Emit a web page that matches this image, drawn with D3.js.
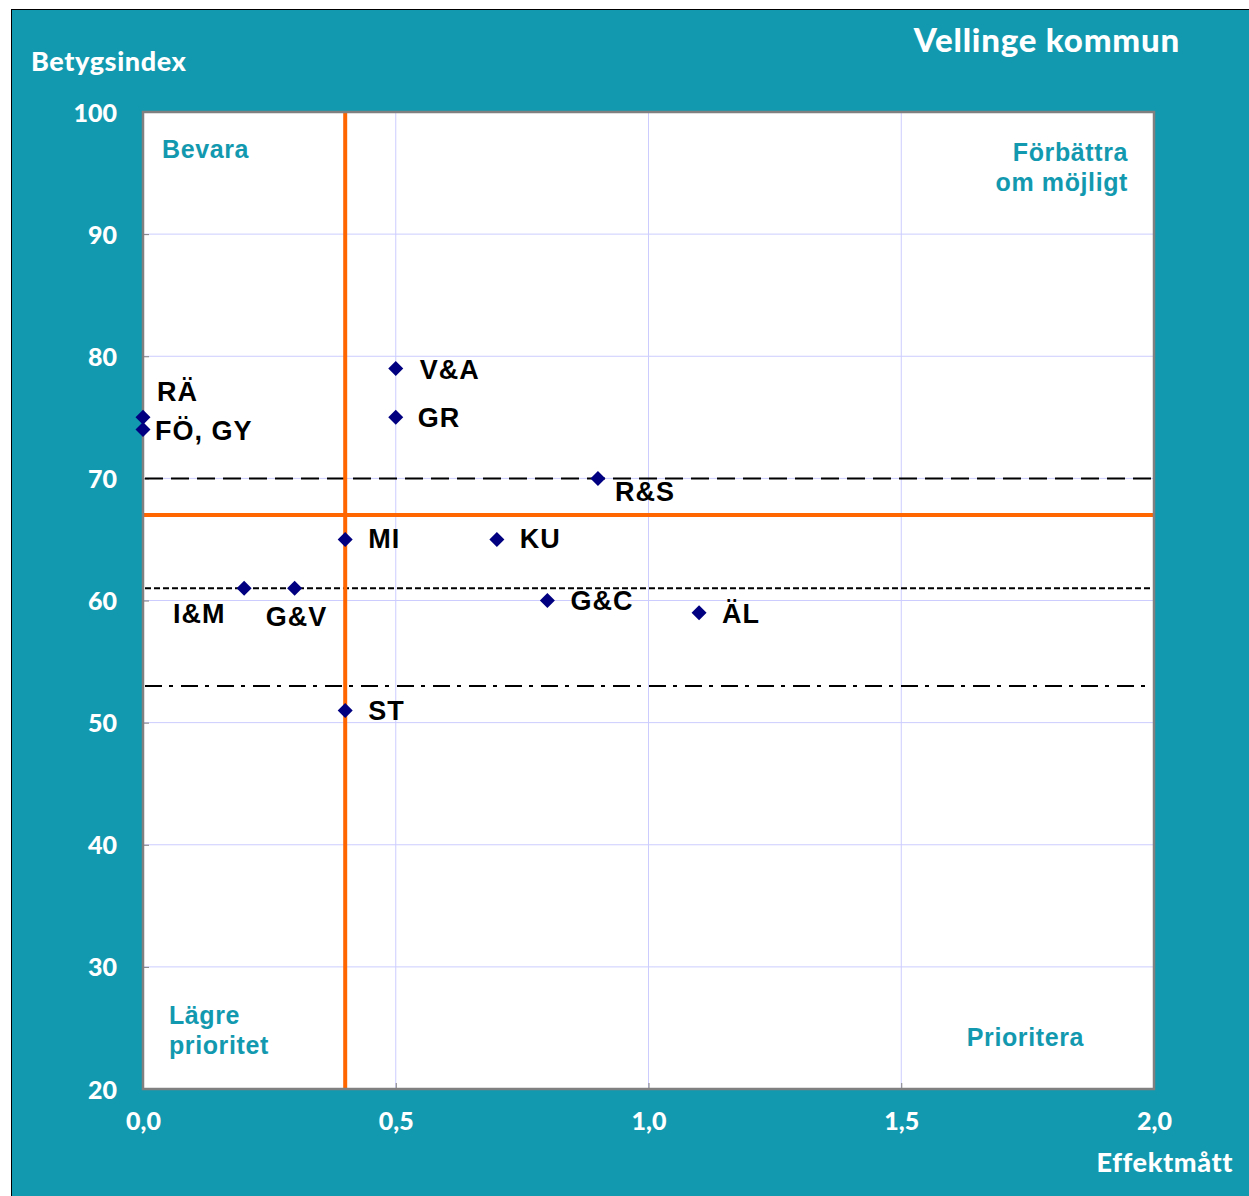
<!DOCTYPE html>
<html>
<head>
<meta charset="utf-8">
<script src="https://cdn.jsdelivr.net/npm/d3@7"></script>
<style>
  html, body { margin: 0; padding: 0; background: #ffffff; }
  svg { display: block; }
</style>
</head>
<body>
<svg id="chart" width="1249" height="1196"></svg>
<script>
// ---- data ----
const labels = ["RÄ", "FÖ, GY", "V&A", "GR", "R&S", "MI", "KU", "I&M", "G&V", "G&C", "ÄL", "ST"];
const effekt = [0, 0, 0.5, 0.5, 0.9, 0.4, 0.7, 0.2, 0.3, 0.8, 1.1, 0.4];
const betyg  = [75, 74, 79, 75, 70, 65, 65, 61, 61, 60, 59, 51];
const xTicks = [0, 0.5, 1.0, 1.5, 2.0];
const yTicks = [20, 30, 40, 50, 60, 70, 80, 90, 100];
const refX = 0.4;          // orange vertical
const refY = 67;           // orange horizontal
const refLevels = [70, 61, 53]; // dashed, dotted, dash-dot
const quadrantLabels = [["Bevara"], ["Förbättra", "om möjligt"], ["Lägre", "prioritet"], ["Prioritera"]];
const title = "Vellinge kommun";
const yTitle = "Betygsindex";
const xTitle = "Effektmått";

// ---- layout / styles ----
const labelOffsets = {
  "RÄ": [14, -16], "FÖ, GY": [12, 10], "V&A": [24, 11], "GR": [22, 10],
  "R&S": [17, 23], "MI": [23, 9], "KU": [23, 9], "I&M": [-71, 35],
  "G&V": [-29, 38], "G&C": [23, 9], "ÄL": [23, 10], "ST": [23, 10]
};
const teal = "#1399af";
const svg = d3.select("#chart");
const L = 143, R = 1154, T = 112, B = 1089;
const x = d3.scaleLinear().domain([0, 2]).range([L, R]);
const y = d3.scaleLinear().domain([20, 100]).range([B, T]);
const fmt = d => d.toFixed(1).replace(".", ",");

// background frame
svg.append("rect").attr("x", 11.5).attr("y", 9.5).attr("width", 1245).attr("height", 1195)
  .attr("fill", teal).attr("stroke", "#000").attr("stroke-width", 1);

// plot area
svg.append("rect").attr("x", L).attr("y", T).attr("width", R - L).attr("height", B - T)
  .attr("fill", "#fff");

// grid
const grid = svg.append("g");
grid.selectAll(".gx").data(xTicks.filter(d => d > 0 && d < 2)).join("line")
  .attr("x1", d => x(d)).attr("x2", d => x(d)).attr("y1", T).attr("y2", B)
  .attr("stroke", "#ccccff").attr("stroke-width", 1);
grid.selectAll(".gy").data(yTicks.filter(d => d > 20 && d < 100)).join("line")
  .attr("x1", L).attr("x2", R).attr("y1", d => y(d)).attr("y2", d => y(d))
  .attr("stroke", "#ccccff").attr("stroke-width", 1);

// axes (ticks inside, labels in white)
const xAxis = d3.axisBottom(x).tickValues(xTicks).tickFormat(fmt).tickSizeInner(-6).tickSizeOuter(0).tickPadding(28);
const yAxis = d3.axisLeft(y).tickValues(yTicks).tickFormat(d => d).tickSizeInner(-6).tickSizeOuter(0).tickPadding(26);
const gx = svg.append("g").attr("transform", `translate(0,${B})`).call(xAxis);
const gy = svg.append("g").attr("transform", `translate(${L},0)`).call(yAxis);
[gx, gy].forEach(g => {
  g.select(".domain").remove();
  g.selectAll(".tick line").attr("stroke", "#808080").attr("stroke-width", 1);
  g.selectAll(".tick text").attr("fill", "#fff").attr("font-family", "Lato, 'Open Sans', sans-serif")
    .attr("font-weight", "900").attr("font-size", 25);
});
gy.selectAll(".tick text").attr("dy", "0.36em");
gx.selectAll(".tick text").attr("dy", "0.5em");

// reference lines
const dashes = ["18,8", "6,3", "17,7,4,8"];
svg.selectAll(".ref").data(refLevels).join("line")
  .attr("x1", L + 2).attr("x2", R - 2).attr("y1", d => y(d)).attr("y2", d => y(d))
  .attr("stroke", "#000").attr("stroke-width", 2)
  .attr("stroke-dasharray", (d, i) => dashes[i]);

// orange quadrant lines
svg.append("line").attr("x1", x(refX)).attr("x2", x(refX)).attr("y1", T).attr("y2", B)
  .attr("stroke", "#ff6600").attr("stroke-width", 4);
svg.append("line").attr("x1", L).attr("x2", R).attr("y1", y(refY)).attr("y2", y(refY))
  .attr("stroke", "#ff6600").attr("stroke-width", 4);

// plot border
svg.append("rect").attr("x", L).attr("y", T).attr("width", R - L).attr("height", B - T)
  .attr("fill", "none").attr("stroke", "#808080").attr("stroke-width", 2.5);

// quadrant labels
const qFont = "Liberation Sans, Arial, sans-serif";
const qPos = [
  {x: 162, y: 158, anchor: "start"},
  {x: 1128, y: 161, anchor: "end"},
  {x: 169, y: 1024, anchor: "start"},
  {x: 1084, y: 1046, anchor: "end"}
];
quadrantLabels.forEach((lines, i) => {
  const t = svg.append("text").attr("x", qPos[i].x).attr("y", qPos[i].y)
    .attr("text-anchor", qPos[i].anchor).attr("fill", teal)
    .attr("font-family", qFont).attr("font-weight", "bold").attr("font-size", 25)
    .attr("letter-spacing", 0.6);
  lines.forEach((s, j) => t.append("tspan").attr("x", qPos[i].x).attr("dy", j === 0 ? 0 : 30).text(s));
});

// points
const pts = labels.map((l, i) => ({label: l, x: effekt[i], y: betyg[i]}));
svg.selectAll(".pt").data(pts).join("path")
  .attr("d", "M0,-7.5L7.5,0L0,7.5L-7.5,0Z")
  .attr("transform", d => `translate(${x(d.x)},${y(d.y)})`)
  .attr("fill", "#000080");

svg.selectAll(".lbl").data(pts).join("text")
  .attr("x", d => x(d.x) + labelOffsets[d.label][0])
  .attr("y", d => y(d.y) + labelOffsets[d.label][1])
  .attr("font-family", qFont).attr("font-weight", "bold").attr("font-size", 27)
  .attr("letter-spacing", 1)
  .attr("fill", "#000")
  .text(d => d.label);

// titles
const tFont = "Lato, 'Open Sans', sans-serif";
svg.append("text").attr("x", 1180).attr("y", 52).attr("text-anchor", "end")
  .attr("fill", "#fff").attr("font-family", tFont).attr("font-weight", "900").attr("font-size", 33)
  .attr("letter-spacing", 0.8)
  .text(title);
svg.append("text").attr("x", 31).attr("y", 71)
  .attr("fill", "#fff").attr("font-family", tFont).attr("font-weight", "900").attr("font-size", 27)
  .attr("letter-spacing", 0.6)
  .text(yTitle);
svg.append("text").attr("x", 1233).attr("y", 1172).attr("text-anchor", "end")
  .attr("fill", "#fff").attr("font-family", tFont).attr("font-weight", "900").attr("font-size", 27)
  .attr("letter-spacing", 0.6)
  .text(xTitle);
</script>
</body>
</html>
